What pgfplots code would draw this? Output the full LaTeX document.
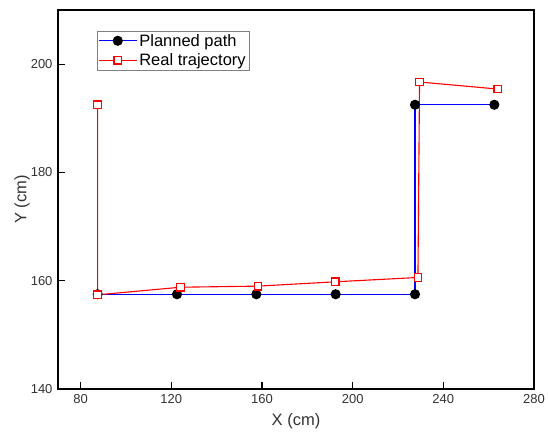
\documentclass[border=0pt]{standalone}
\usepackage{pgfplots}
\pgfplotsset{compat=1.18}
\usepackage{fontspec}
\setmainfont{Liberation Sans}
\begin{document}
\begin{tikzpicture}
\begin{axis}[
    scale only axis,
    width=476pt, height=379pt,
    xmin=70, xmax=280, ymin=140, ymax=210,
    xtick={80,120,160,200,240,280},
    ytick={140,160,180,200},
    xtick pos=bottom, ytick pos=left,
    tick align=inside,
    major tick length=7pt,
    tick style={line width=1.2pt, black},
    axis line style={line width=1.3pt},
    xlabel={X (cm)}, ylabel={Y (cm)},
    /pgf/number format/assume math mode=true,
    tick label style={font=\fontsize{13}{15}\selectfont, text=black!80},
    xticklabel style={yshift=-2pt},
    yticklabel style={xshift=-2pt},
    label style={font=\fontsize{16.5}{19}\selectfont, text=black!80},
    xlabel style={at={(0.5,0)}, anchor=center, yshift=-32pt},
    ylabel style={at={(0,0.5)}, anchor=center, yshift=36pt},
    legend style={at={(0.082,0.945)}, anchor=north west, draw=gray,
        font=\fontsize{16.5}{18}\selectfont, inner sep=1pt, row sep=2pt},
    legend cell align=left,
    legend image code/.code={
        \draw[#1, mark repeat=2, mark phase=2]
            plot coordinates {(0pt,0pt) (19pt,0pt) (38pt,0pt)};},
]
\addplot[color=blue, line width=1.1pt, mark=*, mark size=4.5pt,
    mark options={color=black, fill=black}]
  coordinates {(87.5,157.5) (122.5,157.5) (157.5,157.5)
    (192.5,157.5) (227.5,157.5) (227.5,192.5) (262.5,192.5)};
\addlegendentry{Planned path}
\addplot[color=red, line width=1.1pt, mark=square*, mark size=3.8pt,
    mark options={color=red, fill=white, line width=1.2pt}]
  coordinates {(87.5,192.5) (87.5,157.4) (124.1,158.8) (158.2,159.0)
    (192.3,159.8) (228.8,160.6) (229.5,196.7) (264.0,195.4)};
\addlegendentry{Real trajectory}
\end{axis}
\pgfresetboundingbox
\path ([shift={(-58pt,-43pt)}]current axis.south west)
    rectangle ([shift={(14pt,10pt)}]current axis.north east);
\end{tikzpicture}
\end{document}
